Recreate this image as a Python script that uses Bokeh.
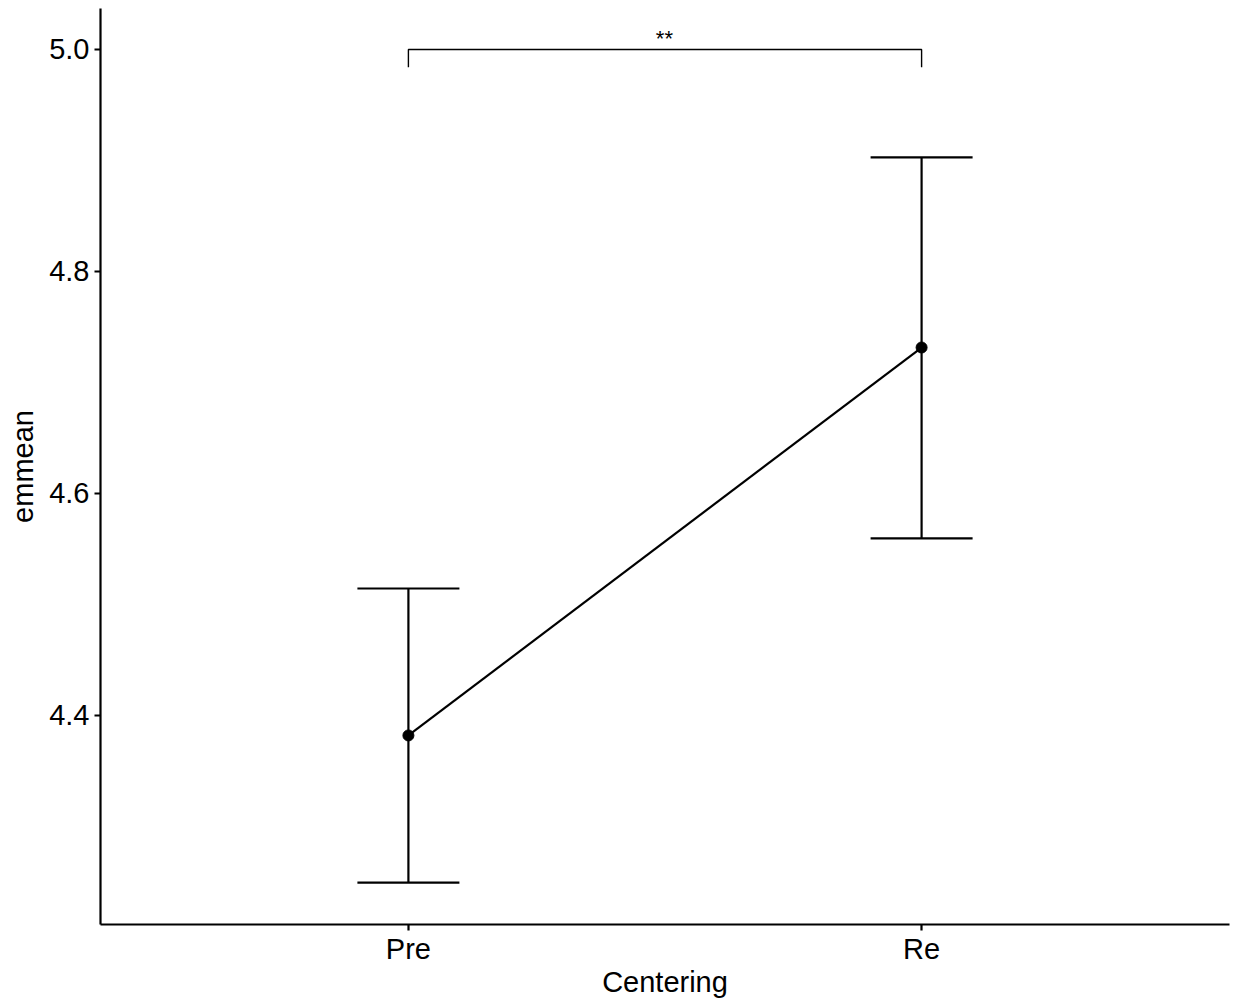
from bokeh.plotting import figure
from bokeh.models import (FactorRange, Range1d, ColumnDataSource, Whisker, TeeHead,
                          FixedTicker, NumeralTickFormatter)
from bokeh.embed import file_html
from bokeh.resources import INLINE
from bokeh.core.properties import value

# ---- data ----
categories = ["Pre", "Re"]
emmean = [4.382, 4.7315]
lower_cl = [4.2495, 4.5595]
upper_cl = [4.5144, 4.9027]
y_ticks = [4.4, 4.6, 4.8, 5.0]
bracket_y = 5.0
bracket_tip = 4.984
signif_label = "**"
x_title = "Centering"
y_title = "emmean"

FONT = "Liberation Sans"

xr = FactorRange(factors=categories, range_padding=0.1, range_padding_units="absolute")
p = figure(x_range=xr, y_range=Range1d(4.2117, 5.0369),
           width=1233, height=1005, output_backend="svg", toolbar_location=None,
           min_border_left=100, min_border_right=4, min_border_top=8, min_border_bottom=81)
p.outline_line_color = None
p.xgrid.visible = False
p.ygrid.visible = False
p.background_fill_color = "white"
p.border_fill_color = "white"

src = ColumnDataSource(dict(x=categories, y=emmean, lo=lower_cl, hi=upper_cl))

w = Whisker(base="x", lower="lo", upper="hi", source=src, line_color="black", line_width=2.2,
            upper_head=TeeHead(size=102, line_color="black", line_width=2.2),
            lower_head=TeeHead(size=102, line_color="black", line_width=2.2))
p.add_layout(w)

p.line("x", "y", source=src, line_color="black", line_width=2.2)
p.scatter("x", "y", source=src, size=11, fill_color="black", line_color="black")

# significance bracket
p.line(x=[categories[0], categories[0], categories[1], categories[1]],
       y=[bracket_tip, bracket_y, bracket_y, bracket_tip],
       line_color="black", line_width=1.4)
p.text(x=[categories[0]], y=[bracket_y + 0.0095], text=[signif_label],
       x_offset=256, text_align="center", text_baseline="alphabetic",
       text_font=value(FONT), text_font_size="22px", text_color="black")

for ax in (p.xaxis[0], p.yaxis[0]):
    ax.axis_line_width = 2.2
    ax.axis_line_color = "black"
    ax.major_tick_line_width = 2.2
    ax.major_tick_line_color = "black"
    ax.major_tick_out = 6
    ax.major_tick_in = 0
    ax.minor_tick_line_color = None
    ax.major_label_text_font = FONT
    ax.major_label_text_font_size = "29px"
    ax.major_label_text_color = "black"
    ax.axis_label_text_font = FONT
    ax.axis_label_text_font_size = "29px"
    ax.axis_label_text_font_style = "normal"
    ax.axis_label_text_color = "black"

p.yaxis.ticker = FixedTicker(ticks=y_ticks)
p.yaxis.formatter = NumeralTickFormatter(format="0.0")
p.yaxis.major_label_standoff = 5
p.xaxis.major_label_standoff = 2
p.xaxis.axis_label = x_title
p.yaxis.axis_label = y_title
p.xaxis.axis_label_standoff = -2
p.yaxis.axis_label_standoff = 7

open("out.html", "w").write(file_html(p, INLINE))
